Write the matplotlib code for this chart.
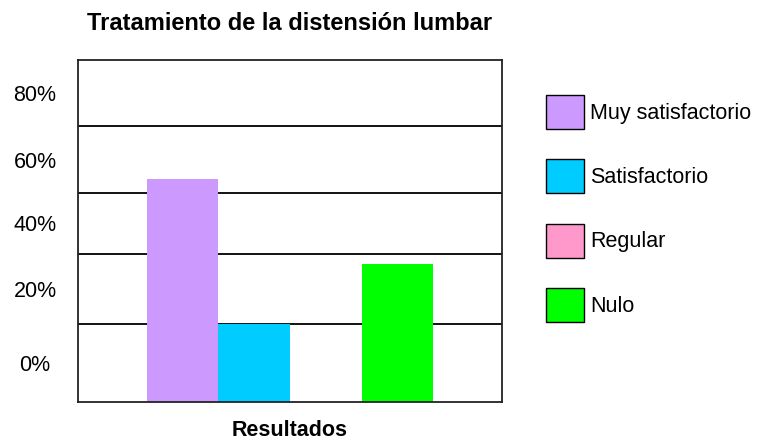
import matplotlib
matplotlib.use("Agg")
import matplotlib.pyplot as plt
from matplotlib import font_manager
from matplotlib.patches import Patch

# Data
categories = ["Muy satisfactorio", "Satisfactorio", "Regular", "Nulo"]
values = [65.2, 22.8, 0.0, 40.4]
band_edges = [22.8, 43.3, 61.1, 80.7]
tick_labels = ["0%", "20%", "40%", "60%", "80%"]
group_label = "Resultados"
title = "Tratamiento de la distensión lumbar"

colors = ["#CC99FF", "#00CCFF", "#FF99CC", "#00FF00"]

installed = {f.name for f in font_manager.fontManager.ttflist}
if "Liberation Sans Narrow" in installed:
    family, scale = "Liberation Sans Narrow", 1.0 / 0.82
else:
    family, scale = "Liberation Sans", 1.0
plt.rcParams["font.family"] = [family, "DejaVu Sans"]

W, H = 762, 442
fig = plt.figure(figsize=(W / 100, H / 100), dpi=100)
ax = fig.add_axes([78 / W, 1 - 402 / H, (502 - 78) / W, (402 - 60) / H])

ymax = 100.0
n = len(categories)
bar_w = 0.169
for i, (cat, v, c) in enumerate(zip(categories, values, colors)):
    ax.bar((i - (n - 1) / 2) * bar_w, v, width=bar_w, color=c, linewidth=0, zorder=2)

ax.set_xlim(-0.5, 0.5)
ax.set_ylim(0, ymax)

# horizontal gridlines between bands, labels centred in each band
edges = [0.0] + band_edges + [ymax]
centers = [(a + b) / 2 for a, b in zip(edges[:-1], edges[1:])]
ax.set_yticks(band_edges, minor=True)
ax.set_yticks(centers)
ax.set_yticklabels(tick_labels, fontsize=15.5 * scale, ha="center")
ax.tick_params(axis="y", which="both", length=0, pad=31)
ax.grid(which="minor", axis="y", color="black", linewidth=1.3, zorder=0)
ax.set_axisbelow(True)
ax.set_xticks([])

for s in ax.spines.values():
    s.set_linewidth(1.3)
    s.set_color("#222222")

ax.set_xlabel(group_label, fontsize=15.5 * scale, fontweight="bold", labelpad=13)
fig.text(290 / W, 1 - 23 / H, title, fontsize=17 * scale, fontweight="bold",
         ha="center", va="center")

fs_leg = 15.5 * scale
px = fs_leg * 100 / 72
handles = [Patch(facecolor=c, edgecolor="black", linewidth=1.0) for c in colors]
fig.legend(handles, categories, loc="upper left",
           bbox_to_anchor=(546 / W, 1 - 95 / H), frameon=False,
           fontsize=fs_leg, handlelength=38 / px, handleheight=44 / px,
           handletextpad=6 / px, labelspacing=30.5 / px, borderpad=0,
           borderaxespad=0)

fig.savefig("out.png", dpi=100, facecolor="white")
